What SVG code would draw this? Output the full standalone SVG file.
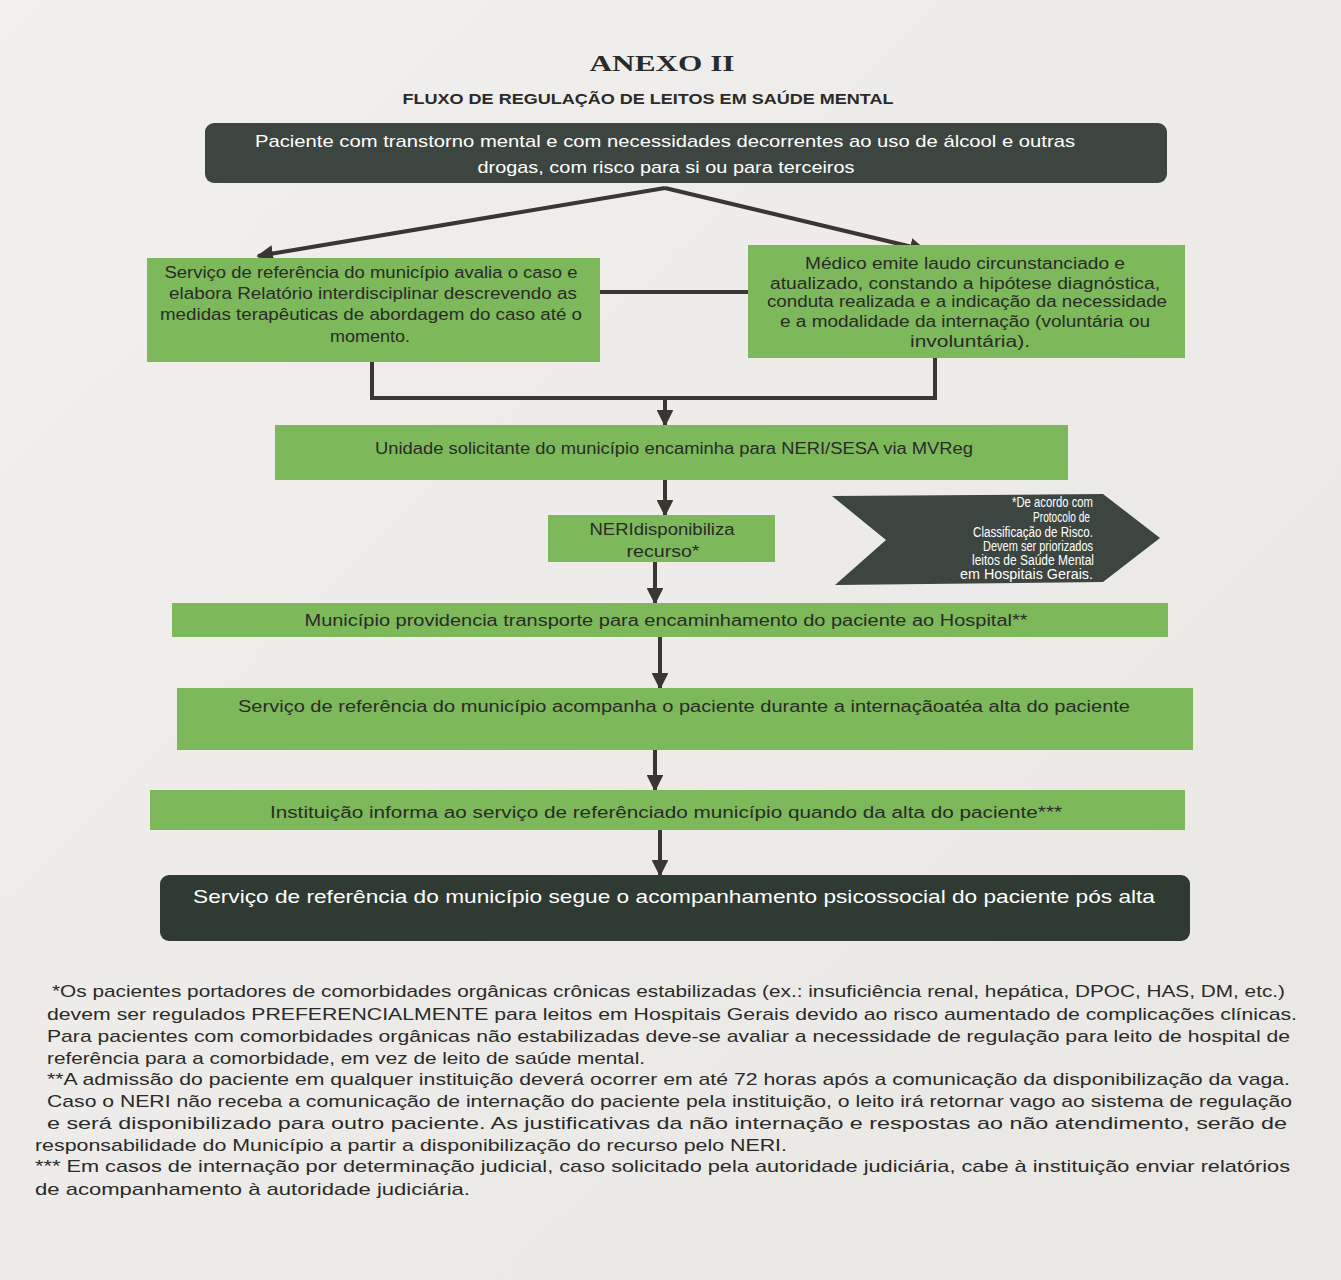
<svg xmlns="http://www.w3.org/2000/svg" width="1341" height="1280" viewBox="0 0 1341 1280">
<defs>
<marker id="ah" viewBox="0 0 10 10" refX="9" refY="5" markerWidth="4.2" markerHeight="4.2" orient="auto" markerUnits="strokeWidth">
<path d="M0,0 L10,5 L0,10 z" fill="#3a3632"/>
</marker>
<linearGradient id="bg" x1="0" y1="0" x2="1" y2="1">
<stop offset="0" stop-color="#f1f0ee"/>
<stop offset="1" stop-color="#e9e7e4"/>
</linearGradient>
</defs>
<style>
.g{fill:#7db85b}
.d{fill:#3d4540}
.t{font-family:"Liberation Sans",Arial,sans-serif;font-size:16px;fill:#2b2b27;text-anchor:middle}
.w{font-family:"Liberation Sans",Arial,sans-serif;font-size:17px;fill:#ffffff;text-anchor:middle}
.c{font-family:"Liberation Sans",Arial,sans-serif;font-size:14px;fill:#ffffff;text-anchor:end}
.f{font-family:"Liberation Sans",Arial,sans-serif;font-size:17px;fill:#2a2a28}
.ln{stroke:#3a3632;stroke-width:4;fill:none}
</style>
<rect width="1341" height="1280" fill="url(#bg)"/>
<text x="662" y="71" font-family="Liberation Serif,serif" font-weight="bold" font-size="23" fill="#2a2a28" text-anchor="middle" textLength="145" lengthAdjust="spacingAndGlyphs">ANEXO II</text>
<text x="648" y="104" font-family="Liberation Sans,Arial,sans-serif" font-weight="bold" font-size="15.5" fill="#2a2a28" text-anchor="middle" textLength="491" lengthAdjust="spacingAndGlyphs">FLUXO DE REGULAÇÃO DE LEITOS EM SAÚDE MENTAL</text>

<g id="connectors">
<path class="ln" d="M665,188 L258,256" marker-end="url(#ah)"/>
<path class="ln" d="M665,188 L925,250" marker-end="url(#ah)"/>
<path class="ln" d="M600,292 L748,292"/>
<path class="ln" d="M372,362 L372,398 L935,398 L935,358"/>
<path class="ln" d="M665,398 L665,425" marker-end="url(#ah)"/>
<path class="ln" d="M665,480 L665,515" marker-end="url(#ah)"/>
<path class="ln" d="M655,562 L655,603" marker-end="url(#ah)"/>
<path class="ln" d="M660,637 L660,688" marker-end="url(#ah)"/>
<path class="ln" d="M655,750 L655,790" marker-end="url(#ah)"/>
<path class="ln" d="M660,830 L660,875" marker-end="url(#ah)"/>
</g>

<g id="n1">
<rect class="d" x="205" y="123" width="962" height="60" rx="9"/>
<text class="w" x="665" y="147" textLength="820" lengthAdjust="spacingAndGlyphs">Paciente com transtorno mental e com necessidades decorrentes ao uso de álcool e outras</text>
<text class="w" x="666" y="173" textLength="377" lengthAdjust="spacingAndGlyphs">drogas, com risco para si ou para terceiros</text>
</g>

<g id="n2">
<rect class="g" x="147" y="258" width="453" height="104"/>
<text class="t" x="371" y="278" textLength="413" lengthAdjust="spacingAndGlyphs">Serviço de referência do município avalia o caso e</text>
<text class="t" x="373" y="299" textLength="408" lengthAdjust="spacingAndGlyphs">elabora Relatório interdisciplinar descrevendo as</text>
<text class="t" x="371" y="320" textLength="422" lengthAdjust="spacingAndGlyphs">medidas terapêuticas de abordagem do caso até o</text>
<text class="t" x="370" y="342" textLength="80" lengthAdjust="spacingAndGlyphs">momento.</text>
</g>

<g id="n3">
<rect class="g" x="748" y="245" width="437" height="113"/>
<text class="t" x="965" y="269" textLength="320" lengthAdjust="spacingAndGlyphs">Médico emite laudo circunstanciado e</text>
<text class="t" x="965" y="289" textLength="390" lengthAdjust="spacingAndGlyphs">atualizado, constando a hipótese diagnóstica,</text>
<text class="t" x="967" y="307" textLength="400" lengthAdjust="spacingAndGlyphs">conduta realizada e a indicação da necessidade</text>
<text class="t" x="965" y="327" textLength="370" lengthAdjust="spacingAndGlyphs">e a modalidade da internação (voluntária ou</text>
<text class="t" x="970" y="347" textLength="120" lengthAdjust="spacingAndGlyphs">involuntária).</text>
</g>

<g id="n4">
<rect class="g" x="275" y="425" width="793" height="55"/>
<text class="t" x="674" y="454" textLength="598" lengthAdjust="spacingAndGlyphs">Unidade solicitante do município encaminha para NERI/SESA via MVReg</text>
</g>

<g id="n5">
<rect class="g" x="548" y="515" width="227" height="47"/>
<text class="t" x="662" y="535" textLength="145" lengthAdjust="spacingAndGlyphs">NERIdisponibiliza</text>
<text class="t" x="663" y="557" textLength="73" lengthAdjust="spacingAndGlyphs">recurso*</text>
</g>

<g id="n6">
<path class="d" d="M832,496 L1103,494 L1160,538 L1103,582 L835,585 L886,540 z"/>
<text class="c" x="1093" y="507" textLength="81" lengthAdjust="spacingAndGlyphs">*De acordo com</text>
<text class="c" x="1090" y="522" textLength="57" lengthAdjust="spacingAndGlyphs">Protocolo de</text>
<text class="c" x="1093" y="537" textLength="120" lengthAdjust="spacingAndGlyphs">Classificação de Risco.</text>
<text class="c" x="1093" y="551" textLength="110" lengthAdjust="spacingAndGlyphs">Devem ser priorizados</text>
<text class="c" x="1094" y="565" textLength="122" lengthAdjust="spacingAndGlyphs">leitos de Saúde Mental</text>
<text class="c" x="1093" y="579" textLength="133" lengthAdjust="spacingAndGlyphs">em Hospitais Gerais.</text>
</g>

<g id="n7">
<rect class="g" x="172" y="603" width="996" height="34"/>
<text class="t" x="666" y="626" textLength="723" lengthAdjust="spacingAndGlyphs">Município providencia transporte para encaminhamento do paciente ao Hospital**</text>
</g>

<g id="n8">
<rect class="g" x="177" y="688" width="1016" height="62"/>
<text class="t" x="684" y="712" textLength="892" lengthAdjust="spacingAndGlyphs">Serviço de referência do município acompanha o paciente durante a internaçãoatéa alta do paciente</text>
</g>

<g id="n9">
<rect class="g" x="150" y="790" width="1035" height="40"/>
<text class="t" x="666" y="818" textLength="792" lengthAdjust="spacingAndGlyphs">Instituição informa ao serviço de referênciado município quando da alta do paciente***</text>
</g>

<g id="n10">
<rect x="160" y="875" width="1030" height="66" rx="9" fill="#2f3a33"/>
<text x="674" y="903" font-family="Liberation Sans,Arial,sans-serif" font-size="19" fill="#ffffff" text-anchor="middle" textLength="962" lengthAdjust="spacingAndGlyphs">Serviço de referência do município segue o acompanhamento psicossocial do paciente pós alta</text>
</g>

<g id="notes">
<text class="f" x="52" y="997" textLength="1233" lengthAdjust="spacingAndGlyphs">*Os pacientes portadores de comorbidades orgânicas crônicas estabilizadas (ex.: insuficiência renal, hepática, DPOC, HAS, DM, etc.)</text>
<text class="f" x="47" y="1020" textLength="1250" lengthAdjust="spacingAndGlyphs">devem ser regulados PREFERENCIALMENTE para leitos em Hospitais Gerais devido ao risco aumentado de complicações clínicas.</text>
<text class="f" x="47" y="1042" textLength="1243" lengthAdjust="spacingAndGlyphs">Para pacientes com comorbidades orgânicas não estabilizadas deve-se avaliar a necessidade de regulação para leito de hospital de</text>
<text class="f" x="47" y="1064" textLength="598" lengthAdjust="spacingAndGlyphs">referência para a comorbidade, em vez de leito de saúde mental.</text>
<text class="f" x="47" y="1085" textLength="1243" lengthAdjust="spacingAndGlyphs">**A admissão do paciente em qualquer instituição deverá ocorrer em até 72 horas após a comunicação da disponibilização da vaga.</text>
<text class="f" x="47" y="1107" textLength="1245" lengthAdjust="spacingAndGlyphs">Caso o NERI não receba a comunicação de internação do paciente pela instituição, o leito irá retornar vago ao sistema de regulação</text>
<text class="f" x="47" y="1129" textLength="1240" lengthAdjust="spacingAndGlyphs">e será disponibilizado para outro paciente. As justificativas da não internação e respostas ao não atendimento, serão de</text>
<text class="f" x="35" y="1151" textLength="752" lengthAdjust="spacingAndGlyphs">responsabilidade do Município a partir a disponibilização do recurso pelo NERI.</text>
<text class="f" x="35" y="1172" textLength="1255" lengthAdjust="spacingAndGlyphs">*** Em casos de internação por determinação judicial, caso solicitado pela autoridade judiciária, cabe à instituição enviar relatórios</text>
<text class="f" x="35" y="1195" textLength="435" lengthAdjust="spacingAndGlyphs">de acompanhamento à autoridade judiciária.</text>
</g>
</svg>
